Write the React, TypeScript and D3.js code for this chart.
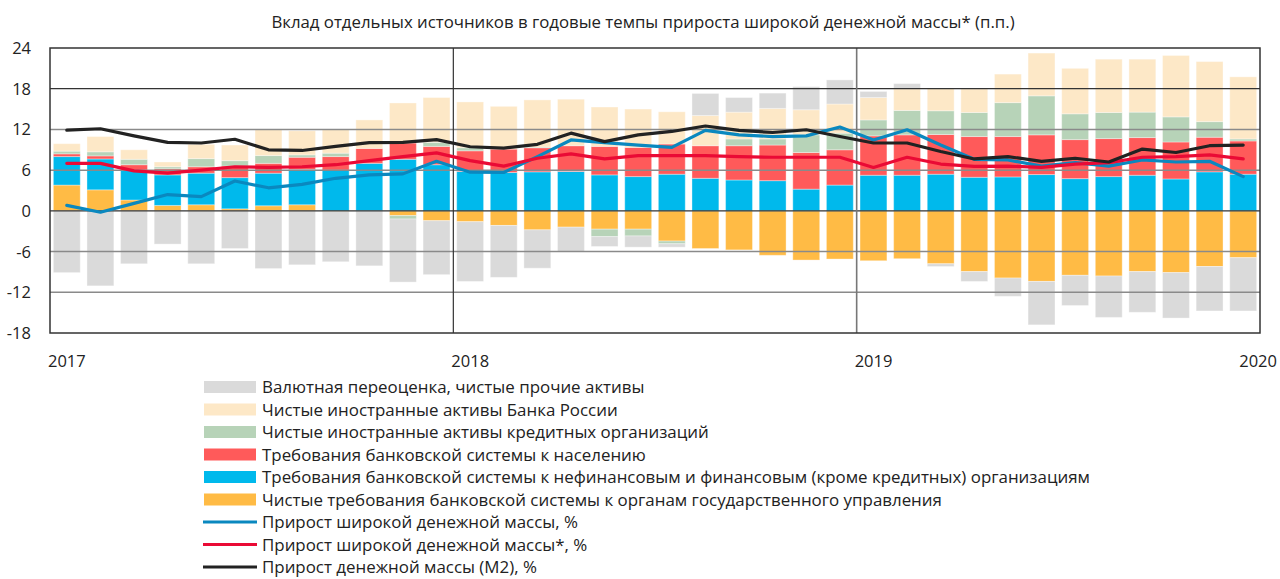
import React from "react";
import * as d3 from "d3";

// months Jan 2017 .. Dec 2019
const months = [
  "2017-01", "2017-02", "2017-03", "2017-04", "2017-05", "2017-06", "2017-07", "2017-08", "2017-09", "2017-10", "2017-11", "2017-12",
  "2018-01", "2018-02", "2018-03", "2018-04", "2018-05", "2018-06", "2018-07", "2018-08", "2018-09", "2018-10", "2018-11", "2018-12",
  "2019-01", "2019-02", "2019-03", "2019-04", "2019-05", "2019-06", "2019-07", "2019-08", "2019-09", "2019-10", "2019-11", "2019-12",
];

// contributions, p.p.
const govClaims = [3.8, 3.1, 1.6, 0.8, 0.9, 0.3, 0.75, 0.9, -0.1, 0, -0.7, -1.45, -1.6, -2.15, -2.8, -2.4, -2.7, -2.7, -4.45, -5.55, -5.75, -6.55, -7.25, -7.1, -7.35, -7.05, -7.8, -8.95, -9.9, -10.4, -9.5, -9.6, -8.95, -9.1, -8.2, -6.9];
const nonFinClaims = [4.2, 4.55, 4.4, 4.5, 4.65, 4.6, 4.8, 5.2, 6.0, 7.0, 7.6, 6.8, 5.8, 5.65, 5.75, 5.8, 5.3, 5.05, 5.4, 4.8, 4.55, 4.45, 3.2, 3.8, 5.25, 5.25, 5.4, 4.95, 5.0, 5.35, 4.75, 5.05, 5.25, 4.7, 5.75, 5.4];
const householdClaims = [0.4, 0.45, 0.8, 0.9, 0.95, 1.7, 1.45, 1.8, 2.0, 2.2, 2.4, 2.7, 3.05, 3.45, 3.55, 3.8, 4.2, 4.3, 4.45, 4.8, 5.05, 5.25, 5.4, 5.2, 5.8, 5.95, 5.85, 6.0, 5.95, 5.85, 5.75, 5.6, 5.55, 5.45, 5.1, 4.9];
const creditOrgForeign = [0.4, 0.6, 0.8, 0.3, 1.2, 0.8, 1.15, 0.35, 0.5, 0, -0.5, 0.6, 0.45, 0, 0.1, 0, -1.1, -1.0, -0.4, 0, 1.0, 0.9, 2.6, 2.45, 2.35, 3.6, 3.5, 3.55, 5.0, 5.75, 3.8, 3.85, 3.75, 3.7, 2.3, 0.3];
const cbrForeign = [1.1, 2.25, 1.4, 0.7, 2.1, 2.3, 3.85, 3.55, 3.5, 4.2, 5.9, 6.6, 6.75, 6.3, 6.95, 6.85, 5.8, 5.65, 4.75, 4.45, 3.95, 4.5, 3.7, 4.3, 3.3, 3.2, 3.35, 3.5, 4.2, 6.3, 6.7, 7.85, 7.8, 9.05, 8.85, 9.15];
const fxOther = [-9.1, -11.05, -7.8, -4.9, -7.8, -5.55, -8.5, -7.95, -7.4, -8.1, -9.3, -7.95, -8.8, -7.65, -5.65, -3.6, -1.45, -1.65, -0.5, 3.25, 2.15, 2.25, 3.4, 3.55, 0.9, 0.75, -0.4, -1.45, -2.7, -6.4, -4.45, -6.1, -6.0, -6.7, -6.55, -7.85];

// growth rates, %
const broadMoney = [0.8, -0.2, 1.1, 2.4, 2.1, 4.4, 3.4, 3.9, 4.8, 5.3, 5.45, 7.3, 5.7, 5.65, 8.0, 10.45, 10.05, 9.7, 9.35, 11.85, 11.2, 10.95, 11.05, 12.35, 10.45, 11.95, 9.7, 7.6, 7.5, 6.6, 7.1, 6.6, 7.5, 7.2, 7.3, 5.05];
const broadMoneyAdj = [7.0, 7.0, 5.9, 5.55, 6.0, 6.5, 6.4, 6.5, 6.8, 7.4, 8.0, 8.55, 7.4, 6.6, 7.75, 8.4, 7.65, 8.15, 8.15, 8.15, 8.0, 7.9, 7.9, 7.9, 6.4, 7.9, 6.9, 6.55, 6.6, 6.4, 6.9, 7.1, 7.9, 8.0, 8.25, 7.65];
const m2 = [11.9, 12.1, 11.05, 10.1, 10.0, 10.55, 9.0, 8.9, 9.5, 10.05, 10.1, 10.5, 9.45, 9.25, 9.8, 11.45, 10.2, 11.2, 11.7, 12.5, 11.85, 11.55, 11.95, 10.95, 10.0, 10.0, 8.75, 7.65, 8.0, 7.3, 7.75, 7.2, 9.1, 8.6, 9.6, 9.7];

const yTicks = [24, 18, 12, 6, 0, -6, -12, -18];
const yearLabels = ["2017", "2018", "2019", "2020"];

const title = "Вклад отдельных источников в годовые темпы прироста широкой денежной массы* (п.п.)";

const barSeries = [
  { key: "gov", values: govClaims, color: "#ffbb45", label: "Чистые требования банковской системы к органам государственного управления" },
  { key: "nonfin", values: nonFinClaims, color: "#00b9ec", label: "Требования банковской системы к нефинансовым и финансовым (кроме кредитных) организациям" },
  { key: "hh", values: householdClaims, color: "#ff5a5a", label: "Требования банковской системы к населению" },
  { key: "cred", values: creditOrgForeign, color: "#b7d3b8", label: "Чистые иностранные активы кредитных организаций" },
  { key: "cbr", values: cbrForeign, color: "#fde8c7", label: "Чистые иностранные активы Банка России" },
  { key: "other", values: fxOther, color: "#dadada", label: "Валютная переоценка, чистые прочие активы" },
];

const lineSeries = [
  { key: "broad", values: broadMoney, color: "#0a88bf", label: "Прирост широкой денежной массы, %" },
  { key: "broadAdj", values: broadMoneyAdj, color: "#ea0a35", label: "Прирост широкой денежной массы*, %" },
  { key: "m2", values: m2, color: "#222222", label: "Прирост денежной массы (М2), %" },
];

const W = 1280;
const H = 579;
const left = 50, right = 1260, top = 48, bottom = 333;
const font = "'Open Sans', Roboto, sans-serif";

export default function App() {
  const x = d3.scaleBand().domain(months).range([left, right]).paddingInner(0.2).paddingOuter(0.1);
  const y = d3.scaleLinear().domain([-18, 24]).range([bottom, top]);

  const rows = months.map((m, i) => {
    const r: any = { month: m };
    barSeries.forEach(s => (r[s.key] = s.values[i]));
    return r;
  });
  const stacked = d3.stack<any>().keys(barSeries.map(s => s.key)).offset(d3.stackOffsetDiverging)(rows);

  const line = d3.line<number>()
    .x((_, i) => x(months[i])! + x.bandwidth() / 2)
    .y(d => y(d));

  const yearX = [left, left + (right - left) / 3, left + (2 * (right - left)) / 3, right];

  const legendOrder = [...barSeries].reverse();

  return (
    <svg width={W} height={H} style={{ position: "absolute", left: 0, top: 0, background: "#fff" }} fontFamily={font}>
      <text x={643} y={28} textAnchor="middle" fontSize={16.8} fill="#222">{title}</text>

      {stacked.map((layer, li) => (
        <g key={layer.key} fill={barSeries[li].color}>
          {layer.map((d, i) => {
            const y0 = y(d[0]), y1 = y(d[1]);
            const h = Math.abs(y0 - y1);
            if (h < 0.01) return null;
            return (
              <rect key={i} x={x(months[i])} y={Math.min(y0, y1)} width={x.bandwidth()} height={h}
                stroke="#ffffff" strokeOpacity={0.35} strokeWidth={1} />
            );
          })}
        </g>
      ))}

      {yTicks.filter(t => t !== 24 && t !== -18).map(t => (
        <line key={t} x1={left} x2={right} y1={y(t)} y2={y(t)}
          stroke={t === 0 || t === 18 ? "#333" : "#8a8a8a"} strokeWidth={t === 0 || t === 18 ? 1.2 : 1.5} />
      ))}
      <line x1={yearX[1]} x2={yearX[1]} y1={top} y2={bottom} stroke="#333" strokeWidth={1.2} />
      <line x1={yearX[2]} x2={yearX[2]} y1={top} y2={bottom} stroke="#777" strokeWidth={1.6} />
      <rect x={left} y={top} width={right - left} height={bottom - top} fill="none" stroke="#333" strokeWidth={1.5} />

      {lineSeries.map(s => (
        <path key={s.key} d={line(s.values) || ""} fill="none" stroke={s.color} strokeWidth={3.2} strokeLinejoin="round" strokeLinecap="round" />
      ))}

      {yTicks.map(t => (
        <text key={t} x={31} y={y(t) + 6} textAnchor="end" fontSize={16.5} fill="#222">{t}</text>
      ))}

      {yearLabels.map((lab, i) => (
        <text key={lab} x={i < 3 ? yearX[i] - 2 : 1277} y={367} textAnchor={i < 3 ? "start" : "end"} fontSize={16.5} fill="#222">{lab}</text>
      ))}

      <g>
        {[...legendOrder.map(s => ({ ...s, type: "bar" })), ...lineSeries.map(s => ({ ...s, type: "line" }))].map((s, i) => {
          const cy = 387 + i * 22.5;
          return (
            <g key={s.key}>
              {s.type === "bar"
                ? <rect x={204} y={cy - 6} width={52} height={12} fill={s.color} />
                : <line x1={203} x2={257} y1={cy} y2={cy} stroke={s.color} strokeWidth={3} />}
              <text x={262} y={cy + 6} fontSize={16.9} fill="#222">{s.label}</text>
            </g>
          );
        })}
      </g>
    </svg>
  );
}
